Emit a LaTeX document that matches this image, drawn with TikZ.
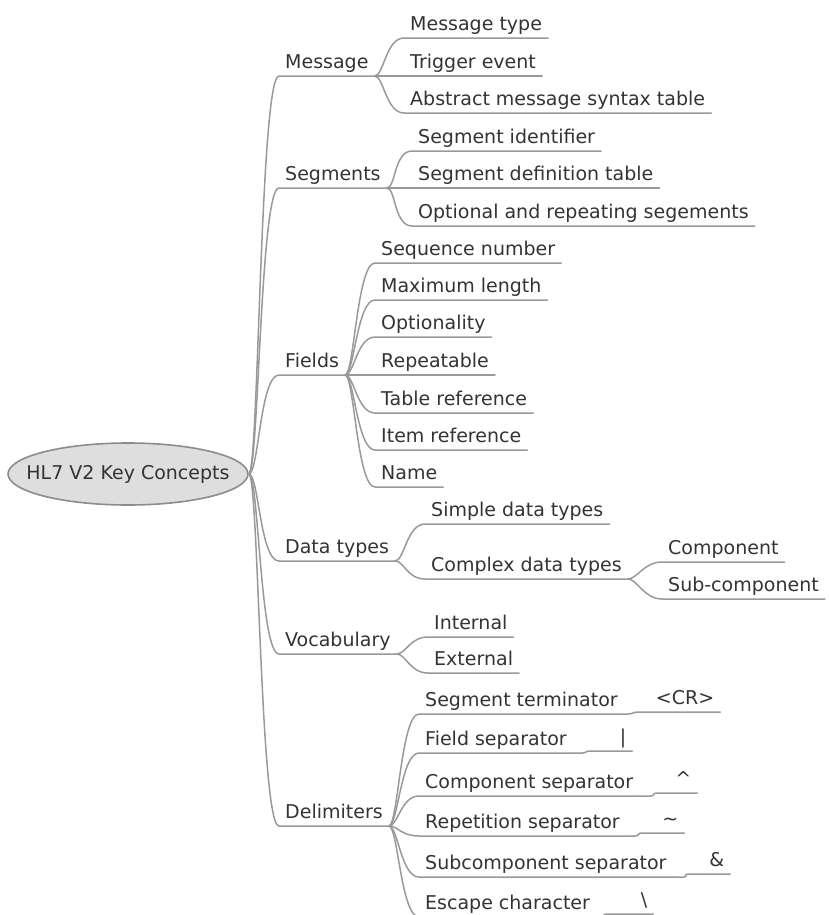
\documentclass[tikz,border=0pt]{standalone}
\usepackage{fontspec}
\setmainfont{DejaVu Sans}
\usetikzlibrary{shapes.geometric}
\definecolor{inkgray}{HTML}{333333}
\definecolor{linegray}{HTML}{999999}
\definecolor{rootfill}{HTML}{DEDEDE}
\definecolor{rootline}{HTML}{8C8C8C}

\begin{document}
\begin{tikzpicture}[x=1bp,y=-1bp,
  font=\fontsize{19bp}{23bp}\selectfont,
  rootnode/.style={ellipse, draw=rootline, line width=1.6bp, fill=rootfill,
    minimum width=240bp, minimum height=62bp, inner sep=0pt},
  topic/.style={anchor=south west, text=inkgray, inner xsep=6bp, inner ysep=2.5bp,
    text height=14bp, text depth=4.5bp},
  value/.style={topic, align=right},
  link/.style={draw=linegray, line width=1.5bp, line cap=round, line join=round},
]
\useasboundingbox (0,0) rectangle (829,915);
\clip (0,0) rectangle (829,915);

% central topic: the ellipse keeps its own size, the title sits in its centre
\node[rootnode, label={[text=inkgray]center:HL7 V2 Key Concepts}] (root) at (128,474) {};

% main branches
\node[topic] (msg) at (279,76)  {Message};
\node[topic] (seg) at (279,188) {Segments};
\node[topic] (fld) at (279,375) {Fields};
\node[topic] (dt)  at (279,561) {Data types};
\node[topic] (voc) at (279,654) {Vocabulary};
\node[topic] (del) at (279,826) {Delimiters};

% Message
\node[topic] (mtype) at (404,38)  {Message type};
\node[topic] (trig)  at (404,76)  {Trigger event};
\node[topic] (abs)   at (404,113) {Abstract message syntax table};

% Segments
\node[topic] (segid)  at (412,151) {Segment identifier};
\node[topic] (segdef) at (412,188) {Segment definition table};
\node[topic] (segopt) at (412,226) {Optional and repeating segements};

% Fields
\node[topic] (seqno)   at (375,263) {Sequence number};
\node[topic] (maxlen)  at (375,300) {Maximum length};
\node[topic] (opt)     at (375,337) {Optionality};
\node[topic] (rep)     at (375,375) {Repeatable};
\node[topic] (tabref)  at (375,413) {Table reference};
\node[topic] (itemref) at (375,450) {Item reference};
\node[topic] (name)    at (375,487) {Name};

% Data types
\node[topic] (simple)  at (425,524) {Simple data types};
\node[topic] (complex) at (425,579) {Complex data types};
\node[topic] (comp)    at (662,562) {Component};
\node[topic] (subcomp) at (662,599) {Sub-component};

% Vocabulary
\node[topic] (internal) at (428,637) {Internal};
\node[topic] (external) at (428,673) {External};

% Delimiters
\node[topic] (segterm)  at (419,714) {Segment terminator};
\node[topic] (fieldsep) at (419,753) {Field separator};
\node[topic] (compsep)  at (419,796) {Component separator};
\node[topic] (repsep)   at (419,836) {Repetition separator};
\node[topic] (subsep)   at (419,877) {Subcomponent separator};
\node[topic] (escape)   at (419,917) {Escape character};

% delimiter characters
\node[value, text width=70bp] (cr)     at (638,712) {<CR>};
\node[value, text width=30bp] (bar)    at (590,751) {|};
\node[value, text width=28bp] (caret)  at (657,793) {\textasciicircum};
\node[value, text width=30bp] (tilde)  at (642,833) {\textasciitilde};
\node[value, text width=30bp] (amp)    at (688,874) {\&};
\node[value, text width=34bp] (bslash) at (607,914) {\textbackslash};

% connectors from the central topic
\foreach \c in {msg,seg,fld,dt,voc,del}
  \draw[link] (root.east) .. controls +(10,0) and +(-19,0) .. (\c.south west) -- (\c.south east);

% connectors between topics and subtopics
\foreach \p/\c in {msg/mtype, msg/trig, msg/abs,
                   seg/segid, seg/segdef, seg/segopt,
                   fld/seqno, fld/maxlen, fld/opt, fld/rep, fld/tabref, fld/itemref, fld/name,
                   dt/simple, dt/complex, complex/comp, complex/subcomp,
                   voc/internal, voc/external,
                   del/segterm, del/fieldsep, del/compsep, del/repsep, del/subsep, del/escape}
  \draw[link] (\p.south east) .. controls +(9,0) and +(-18,0) .. (\c.south west) -- (\c.south east);

% delimiter names to their characters
\foreach \p/\c/\d in {segterm/cr/4, fieldsep/bar/9, compsep/caret/11,
                      repsep/tilde/9, subsep/amp/11, escape/bslash/4}
  \draw[link] (\p.south east) -- ++(\d,0) .. controls +(5,0) and +(-5,0) .. (\c.south west) -- (\c.south east);
\end{tikzpicture}
\end{document}
